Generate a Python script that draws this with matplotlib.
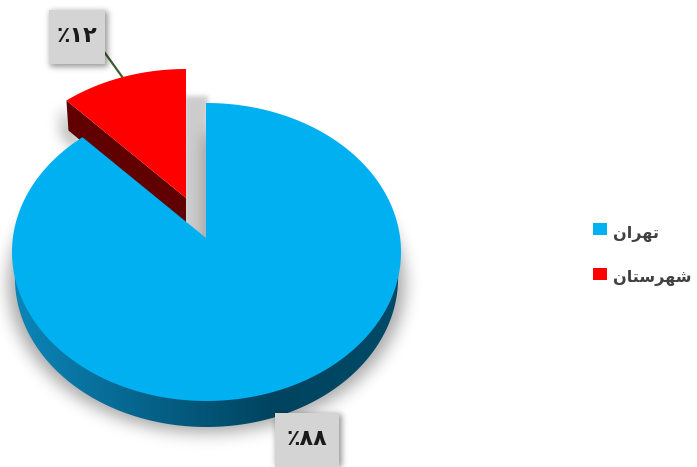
import numpy as np
import matplotlib
matplotlib.use('Agg')
import matplotlib.pyplot as plt
from matplotlib.colors import LinearSegmentedColormap
from matplotlib.patches import Patch, Polygon, Rectangle
from matplotlib.path import Path

# legend names, already shaped and in visual order (matplotlib has no arabic shaping)
categories = ['\uFEE5\uFE8D\uFEAE\uFEEC\uFE97', '\uFEE5\uFE8E\uFE98\uFEB3\uFEAE\uFEEC\uFEB7']
values = [88, 12]
colors = ['#00B0F0', '#FF0000']
side_colors = ['#0B86B8', '#06648C', '#00445F', '#004A68']
red_side = '#600000'

W, H = 697, 467
FA_DIGITS = str.maketrans('0123456789', '۰۱۲۳۴۵۶۷۸۹')
RX, RY = 194.5, 149
grid_x, grid_y = np.meshgrid(np.arange(W) + 0.5, np.arange(H) + 0.5)
grid = np.c_[grid_x.ravel(), grid_y.ravel()]


def slice_outline(apex_x, apex_y, cx, cy, a0, a1, n=300):
    # outline of a slice seen in perspective: rays leave the apex, the rim is an ellipse offset from it
    # angles in degrees, clockwise from 12 o'clock
    t = np.radians(np.linspace(a0, a1, n))
    dx, dy = RX * np.sin(t), -RY * np.cos(t)
    ox, oy = (apex_x - cx) / RX, (apex_y - cy) / RY
    ux, uy = dx / RX, dy / RY
    b = ox * ux + oy * uy
    a = ux ** 2 + uy ** 2
    c = ox ** 2 + oy ** 2 - 1
    s = (-b + np.sqrt(b ** 2 - a * c)) / a
    return np.r_[apex_x, apex_x + s * dx], np.r_[apex_y, apex_y + s * dy]


def blur(img, sigma):
    r = int(3 * sigma)
    k = np.exp(-0.5 * (np.arange(-r, r + 1) / sigma) ** 2)
    k /= k.sum()
    img = np.apply_along_axis(lambda m: np.convolve(m, k, mode='same'), 0, img)
    return np.apply_along_axis(lambda m: np.convolve(m, k, mode='same'), 1, img)


def soft_shadow(ax, x, y, sigma, alpha, zorder=1):
    mask = Path(np.c_[x, y]).contains_points(grid).reshape(H, W).astype(float)
    rgba = np.zeros((H, W, 4))
    rgba[..., 3] = blur(mask, sigma) * alpha
    ax.imshow(rgba, extent=(0, W, H, 0), aspect='auto', interpolation='bilinear', zorder=zorder)


fig = plt.figure(figsize=(6.97, 4.67), dpi=100)
ax = fig.add_axes([0, 0, 1, 1])

sweep = np.array(values) / sum(values) * 360
blue_end = sweep[0]

bx_pts, by_pts = slice_outline(206, 238, 206.5, 252, 0, blue_end)
rx_pts, ry_pts = slice_outline(186, 198, 186, 218, blue_end, 360)
depth = 26

# shadows on the background
soft_shadow(ax, bx_pts * 1.02 - 4, by_pts + depth + 6, 8, 0.34)
soft_shadow(ax, np.array([184, 184, 208, 208]), np.array([96, 250, 250, 96]), 2.5, 0.2)
soft_shadow(ax, np.r_[rx_pts[1] - 4, rx_pts[1] - 4, 95], np.r_[ry_pts[1] + 6, ry_pts[1] + 34, 170], 7, 0.36)

# red slice, cut face then top
lx, ly = rx_pts[1], ry_pts[1]
ax.fill([lx, 186, 186, lx + 2], [ly, 198, 198 + 30, ly + 30], color=red_side, lw=0, zorder=2)
ax.fill(rx_pts, ry_pts, color=colors[1], lw=0, zorder=3)

# blue side wall: the slice moved down, with a left to right gradient
wall_x = 206.5 + (bx_pts - 206.5) * 0.985
wall_y = by_pts + depth
gradient = LinearSegmentedColormap.from_list('wall', side_colors)
im = ax.imshow(np.linspace(0, 1, 400)[None, :], extent=(12, 401, 440, 230), aspect='auto', cmap=gradient, zorder=4)
im.set_clip_path(Polygon(np.c_[wall_x, wall_y], transform=ax.transData))
ax.fill(bx_pts, by_pts, color=colors[0], lw=0, zorder=5)

# leader line
ax.plot([105, 123], [53, 78], color='#3F5F2F', lw=1.6, zorder=2)

# data labels
boxes = [(275, 413, 64, 54), (49, 10, 56, 54)]
for val, (bx, by, bw, bh) in zip(values, boxes):
    soft_shadow(ax, np.array([bx + 1, bx + 1, bx + bw + 3, bx + bw + 3]),
                np.array([by + 1, by + bh + 3, by + bh + 3, by + 1]), 3, 0.4, zorder=6)
    ax.add_patch(Rectangle((bx, by), bw, bh, color='#D4D4D4', lw=0, zorder=7))
    ax.text(bx + bw / 2, by + bh / 2 - 1, '٪' + str(val).translate(FA_DIGITS), ha='center', va='center',
            fontsize=16, fontweight='bold', family='DejaVu Sans', color='#1A1A1A', zorder=8)

# legend
handles = [Patch(facecolor=c, edgecolor='none') for c in colors]
leg = ax.legend(handles, categories, loc='center left', bbox_to_anchor=(593 / W, 1 - 253 / H), frameon=False,
                prop={'family': 'DejaVu Sans', 'weight': 'bold', 'size': 11.5}, labelcolor='#404040',
                handlelength=0.87, handleheight=0.8, handletextpad=0.38, labelspacing=1.8,
                borderpad=0, borderaxespad=0)
for t in leg.get_texts():
    t.set_y(-3)

ax.set_xlim(0, W)
ax.set_ylim(H, 0)
ax.axis('off')

fig.savefig('out.png', dpi=100)
